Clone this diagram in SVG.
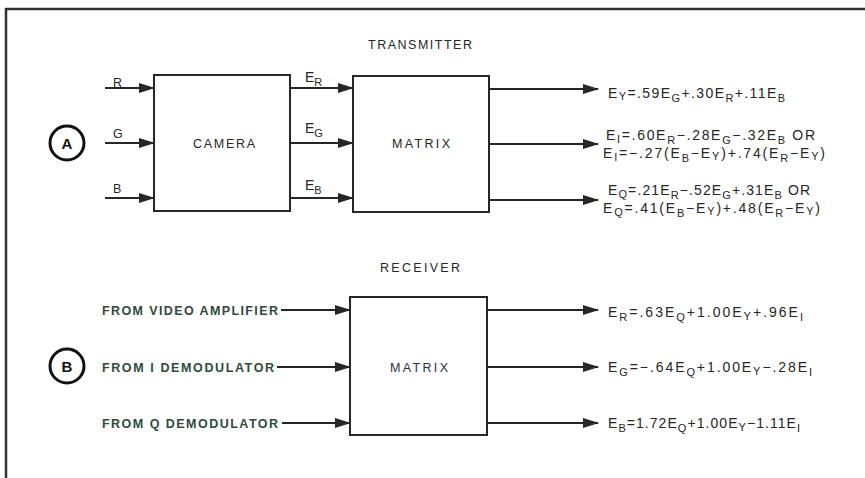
<svg xmlns="http://www.w3.org/2000/svg" width="865" height="478" viewBox="0 0 865 478">
<style>
  .t{font-family:"Liberation Sans",Arial,sans-serif;font-size:12.5px;fill:#262626}
  .eq{font-family:"Liberation Sans",Arial,sans-serif;font-size:14px;fill:#262626}
  .s{font-size:11px}
  .g{fill:#2f4a3c;font-weight:bold}
  .n{fill:#2c2c48}
  .box{fill:none;stroke:#262626;stroke-width:2}
  .ln{stroke:#262626;stroke-width:2;fill:none}
  .circ{fill:none;stroke:#111;stroke-width:3}
</style>
<defs>
  <marker id="ah" markerWidth="16" markerHeight="10" refX="15" refY="5" orient="auto" markerUnits="userSpaceOnUse">
    <path d="M0,0 L16,5 L0,10 Z" fill="#262626"/>
  </marker>
</defs>
<rect width="865" height="478" fill="#fff"/>
<g id="frame">
  <line x1="5" y1="9" x2="865" y2="9" stroke="#333" stroke-width="2.5"/>
  <line x1="6" y1="8" x2="6" y2="478" stroke="#333" stroke-width="2.5"/>
</g>
<g id="titles">
  <text class="t" x="368" y="49" textLength="104" lengthAdjust="spacing">TRANSMITTER</text>
  <text class="t" x="380" y="272" textLength="80" lengthAdjust="spacing">RECEIVER</text>
</g>
<g id="labelA">
  <circle class="circ" cx="67" cy="143" r="17"/>
  <text x="67" y="148.5" text-anchor="middle" style="font-family:'Liberation Sans',Arial,sans-serif;font-size:15px;font-weight:bold;fill:#111">A</text>
</g>
<g id="labelB">
  <circle class="circ" cx="67" cy="366" r="17"/>
  <text x="67" y="371.5" text-anchor="middle" style="font-family:'Liberation Sans',Arial,sans-serif;font-size:15px;font-weight:bold;fill:#111">B</text>
</g>
<g id="camera">
  <rect class="box" x="154" y="75" width="136" height="136"/>
  <text class="t" x="193" y="148" textLength="62" lengthAdjust="spacing">CAMERA</text>
</g>
<g id="tx-matrix">
  <rect class="box" x="353" y="76" width="136" height="136"/>
  <text class="t" x="392" y="148" textLength="58" lengthAdjust="spacing">MATRIX</text>
</g>
<g id="rx-matrix">
  <rect class="box" x="350" y="297" width="137" height="138"/>
  <text class="t n" x="390" y="372" textLength="58" lengthAdjust="spacing">MATRIX</text>
</g>
<g id="connectors">
  <line class="ln" x1="105" y1="88" x2="154" y2="88" marker-end="url(#ah)"/>
  <line class="ln" x1="105" y1="143" x2="154" y2="143" marker-end="url(#ah)"/>
  <line class="ln" x1="105" y1="198" x2="154" y2="198" marker-end="url(#ah)"/>
  <line class="ln" x1="290" y1="88" x2="353" y2="88" marker-end="url(#ah)"/>
  <line class="ln" x1="290" y1="143" x2="353" y2="143" marker-end="url(#ah)"/>
  <line class="ln" x1="290" y1="198" x2="353" y2="198" marker-end="url(#ah)"/>
  <line class="ln" x1="489" y1="89" x2="598" y2="89" marker-end="url(#ah)"/>
  <line class="ln" x1="489" y1="144" x2="598" y2="144" marker-end="url(#ah)"/>
  <line class="ln" x1="489" y1="200" x2="598" y2="200" marker-end="url(#ah)"/>
  <line class="ln" x1="281" y1="310" x2="350" y2="310" marker-end="url(#ah)"/>
  <line class="ln" x1="277" y1="367" x2="350" y2="367" marker-end="url(#ah)"/>
  <line class="ln" x1="282" y1="423" x2="350" y2="423" marker-end="url(#ah)"/>
  <line class="ln" x1="487" y1="310" x2="598" y2="310" marker-end="url(#ah)"/>
  <line class="ln" x1="487" y1="367" x2="598" y2="367" marker-end="url(#ah)"/>
  <line class="ln" x1="487" y1="423" x2="598" y2="423" marker-end="url(#ah)"/>
</g>
<g id="input-labels">
  <text class="t" x="113" y="87">R</text>
  <text class="t" x="113" y="138">G</text>
  <text class="t" x="113" y="193">B</text>
  <text class="eq" x="305" y="82">E<tspan class="s" dy="4">R</tspan></text>
  <text class="eq" x="305" y="133">E<tspan class="s" dy="4">G</tspan></text>
  <text class="eq" x="305" y="190">E<tspan class="s" dy="4">B</tspan></text>
  <text class="t g" x="102" y="315" textLength="176" lengthAdjust="spacing">FROM VIDEO AMPLIFIER</text>
  <text class="t g" x="102" y="372" textLength="172" lengthAdjust="spacing">FROM I DEMODULATOR</text>
  <text class="t g" x="102" y="428" textLength="176" lengthAdjust="spacing">FROM Q DEMODULATOR</text>
</g>
<g id="tx-equations">
  <text class="eq" x="608" y="98" textLength="177" lengthAdjust="spacing">E<tspan class="s" dy="2">Y</tspan><tspan dy="-2">=.59E</tspan><tspan class="s" dy="4">G</tspan><tspan dy="-4">+.30E</tspan><tspan class="s" dy="4">R</tspan><tspan dy="-4">+.11E</tspan><tspan class="s" dy="4">B</tspan></text>
  <text class="eq" x="606" y="140" textLength="209" lengthAdjust="spacing">E<tspan class="s" dy="3">I</tspan><tspan dy="-3">=.60E</tspan><tspan class="s" dy="4">R</tspan><tspan dy="-4">−.28E</tspan><tspan class="s" dy="4">G</tspan><tspan dy="-4">−.32E</tspan><tspan class="s" dy="4">B</tspan><tspan dy="-4"> OR</tspan></text>
  <text class="eq" x="603" y="158" textLength="222" lengthAdjust="spacing">E<tspan class="s" dy="3">I</tspan><tspan dy="-3">=−.27(E</tspan><tspan class="s" dy="4">B</tspan><tspan dy="-4">−E</tspan><tspan class="s" dy="2">Y</tspan><tspan dy="-2">)+.74(E</tspan><tspan class="s" dy="4">R</tspan><tspan dy="-4">−E</tspan><tspan class="s" dy="2">Y</tspan><tspan dy="-2">)</tspan></text>
  <text class="eq" x="608" y="195" textLength="202" lengthAdjust="spacing">E<tspan class="s" dy="3">Q</tspan><tspan dy="-3">=.21E</tspan><tspan class="s" dy="4">R</tspan><tspan dy="-4">−.52E</tspan><tspan class="s" dy="4">G</tspan><tspan dy="-4">+.31E</tspan><tspan class="s" dy="4">B</tspan><tspan dy="-4"> OR</tspan></text>
  <text class="eq" x="603" y="213" textLength="217" lengthAdjust="spacing">E<tspan class="s" dy="3">Q</tspan><tspan dy="-3">=.41(E</tspan><tspan class="s" dy="4">B</tspan><tspan dy="-4">−E</tspan><tspan class="s" dy="2">Y</tspan><tspan dy="-2">)+.48(E</tspan><tspan class="s" dy="4">R</tspan><tspan dy="-4">−E</tspan><tspan class="s" dy="2">Y</tspan><tspan dy="-2">)</tspan></text>
</g>
<g id="rx-equations">
  <text class="eq" x="608" y="317" textLength="195" lengthAdjust="spacing">E<tspan class="s" dy="4">R</tspan><tspan dy="-4">=.63E</tspan><tspan class="s" dy="4">Q</tspan><tspan dy="-4">+1.00E</tspan><tspan class="s" dy="3">Y</tspan><tspan dy="-3">+.96E</tspan><tspan class="s" dy="4">I</tspan></text>
  <text class="eq" x="608" y="372" textLength="204" lengthAdjust="spacing">E<tspan class="s" dy="4">G</tspan><tspan dy="-4">=−.64E</tspan><tspan class="s" dy="4">Q</tspan><tspan dy="-4">+1.00E</tspan><tspan class="s" dy="3">Y</tspan><tspan dy="-3">−.28E</tspan><tspan class="s" dy="4">I</tspan></text>
  <text class="eq" x="608" y="428" textLength="192" lengthAdjust="spacing">E<tspan class="s" dy="4">B</tspan><tspan dy="-4">=1.72E</tspan><tspan class="s" dy="4">Q</tspan><tspan dy="-4">+1.00E</tspan><tspan class="s" dy="3">Y</tspan><tspan dy="-3">−1.11E</tspan><tspan class="s" dy="4">I</tspan></text>
</g>
</svg>
